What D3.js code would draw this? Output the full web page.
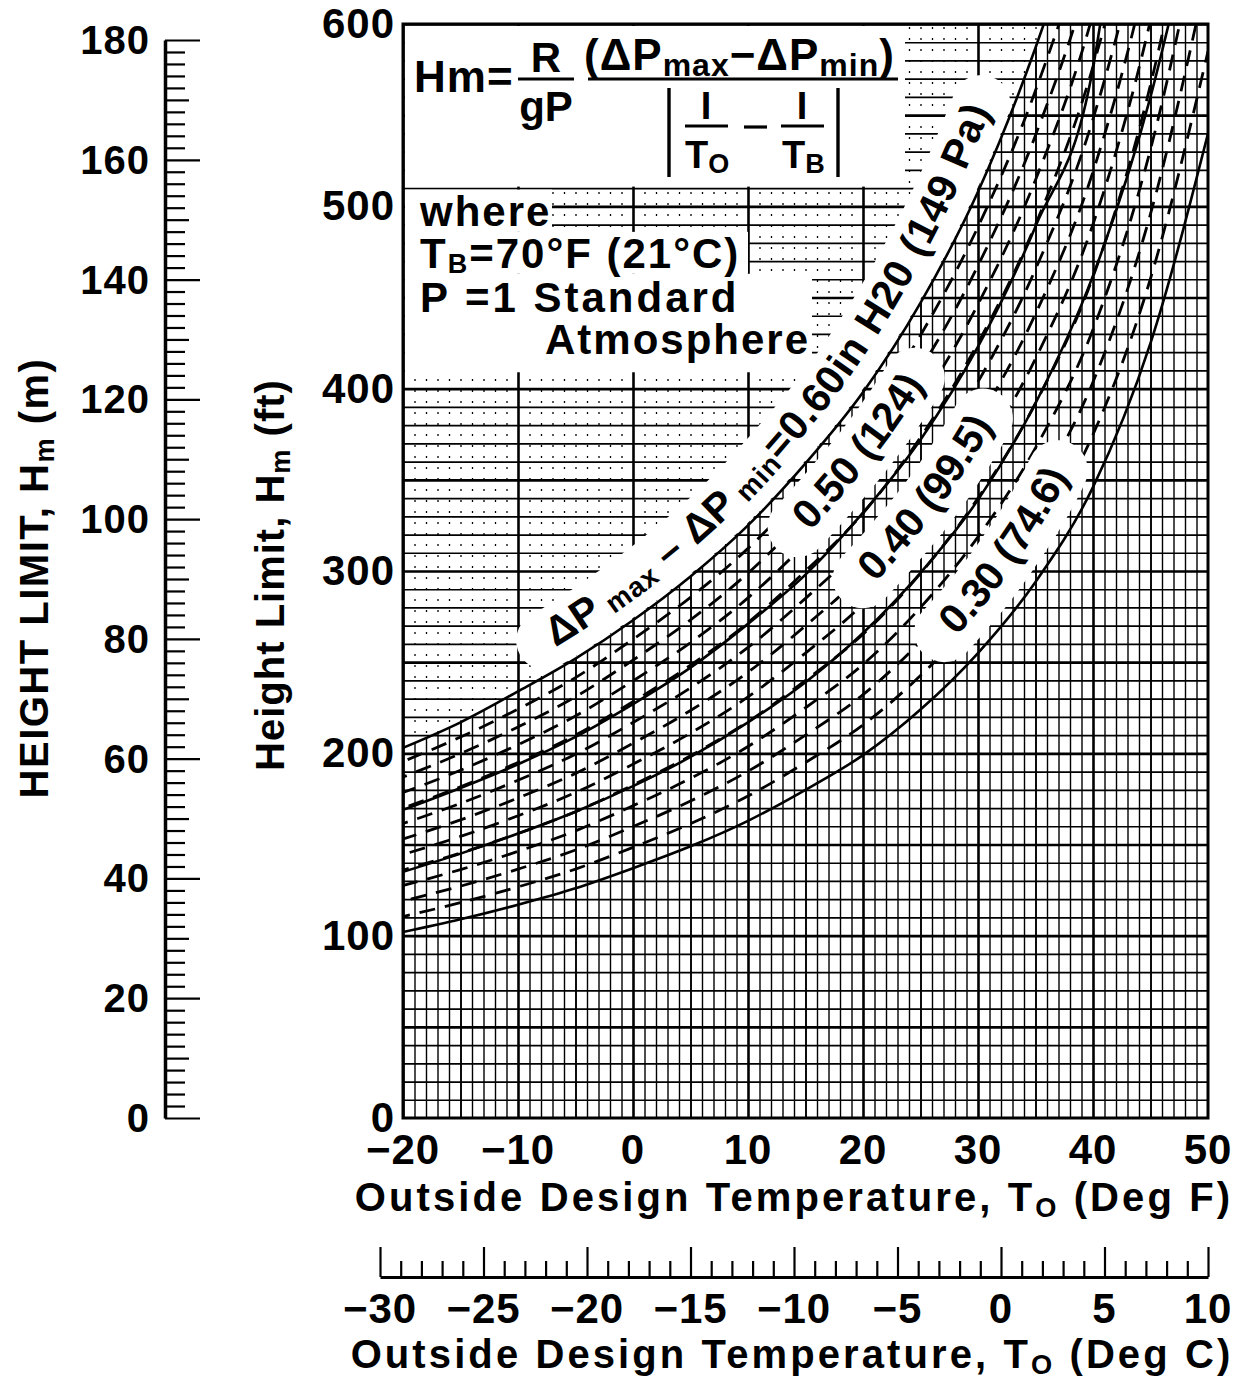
<!DOCTYPE html>
<html>
<head>
<meta charset="utf-8">
<script src="https://cdn.jsdelivr.net/npm/d3@7"></script>
<style>
  body { margin: 0; background: #fff; }
  svg { display: block; }
  text { font-family: "Liberation Sans", Arial, sans-serif; font-weight: bold; fill: #000; }
</style>
</head>
<body>
<svg id="chart" width="1246" height="1381"></svg>
<script>
/* curve readings: outside temperature (deg F) and height limit (ft) */
const temps060 = [-20, -15, -10, -5, 0, 5, 10, 15, 20, 25, 30, 35, 36];
const h060     = [203, 217, 234, 252, 273, 297, 325, 359, 398, 447, 508, 587, 605];
const temps050 = [-20, -15, -10, -5, 0, 5, 10, 15, 20, 25, 30, 35, 40, 41];
const h050     = [169, 181, 194, 209, 227, 247, 271, 298, 332, 372, 423, 489, 576, 615];
const temps040 = [-20, -15, -10, -5, 0, 5, 10, 15, 20, 25, 30, 35, 40, 45, 47];
const h040     = [135, 145, 156, 168, 182, 198, 217, 239, 266, 299, 339, 392, 462, 560, 611];
const temps030 = [-20, -15, -10, -5, 0, 5, 10, 15, 20, 25, 30, 35, 40, 45, 50];
const h030     = [102, 109, 117, 126, 137, 149, 163, 180, 199, 224, 255, 294, 346, 425, 540];

/* curve labels */
const curveLabels = ["0.60in H20 (149 Pa)", "0.50 (124)", "0.40 (99.5)", "0.30 (74.6)"];

/* tick labels */
const ftTicks = [0, 100, 200, 300, 400, 500, 600];
const mTicks = [0, 20, 40, 60, 80, 100, 120, 140, 160, 180];
const fTicks = [-20, -10, 0, 10, 20, 30, 40, 50];
const cTicks = [-30, -25, -20, -15, -10, -5, 0, 5, 10];

const svg = d3.select("#chart");

/* plot frame */
const pL = 403, pR = 1208, pT = 24, pB = 1118;
const x = d3.scaleLinear().domain([-20, 50]).range([pL, pR]);
const y = d3.scaleLinear().domain([0, 600]).range([pB, pT]);
const yM = d3.scaleLinear().domain([0, 180]).range([pB, 40]);
const xC = d3.scaleLinear().domain([-30, 10]).range([x(-22), x(50)]);
const fmt = d => (d < 0 ? "\u2212" + Math.abs(d) : "" + d);

const line = d3.line().x(d => x(d[0])).y(d => y(d[1])).curve(d3.curveMonotoneX);

const curves = [
  { id: "c060", temps: temps060, hts: h060 },
  { id: "c050", temps: temps050, hts: h050 },
  { id: "c040", temps: temps040, hts: h040 },
  { id: "c030", temps: temps030, hts: h030 }
];
curves.forEach(c => c.pts = c.temps.map((t, i) => [t, c.hts[i]]));
const c060 = curves[0], c030 = curves[3];

/* clip regions */
const defs = svg.append("defs");
defs.append("clipPath").attr("id", "plotClip")
  .append("rect").attr("x", pL).attr("y", pT).attr("width", pR - pL).attr("height", pB - pT);
const last060 = c060.pts[c060.pts.length - 1];
defs.append("clipPath").attr("id", "below060").append("path")
  .attr("d", line(c060.pts) + `L1400,${y(last060[1])}L1400,1300L0,1300L0,${y(c060.pts[0][1])}Z`);
defs.append("clipPath").attr("id", "above060").append("path")
  .attr("d", line(c060.pts) + `L${x(last060[0])},-100L0,-100L0,${y(c060.pts[0][1])}Z`);
const last030 = c030.pts[c030.pts.length - 1];
defs.append("clipPath").attr("id", "above030").append("path")
  .attr("d", line(c030.pts) + `L1400,${y(last030[1])}L1400,-100L0,-100L0,${y(c030.pts[0][1])}Z`);

/* layers in drawing order */
const gridLayer = svg.append("g").attr("clip-path", "url(#plotClip)");
const hatchLayer = svg.append("g").attr("clip-path", "url(#below060)")
  .append("g").attr("clip-path", "url(#above030)")
  .append("g").attr("clip-path", "url(#plotClip)");
const boxLayer = svg.append("g");
const bandLayer = svg.append("g").attr("clip-path", "url(#plotClip)");
const curveLayer = svg.append("g").attr("clip-path", "url(#plotClip)");
const labelLayer = svg.append("g");
const axisLayer = svg.append("g");

/* horizontal grid, every 10 ft */
gridLayer.append("g")
  .attr("transform", `translate(${pL},0)`)
  .call(d3.axisLeft(y).tickValues(d3.range(0, 601, 10)).tickSize(-(pR - pL)).tickFormat(""))
  .call(g => g.select(".domain").remove())
  .selectAll("line")
  .attr("stroke", "#000")
  .attr("stroke-width", d => d % 50 === 0 ? 2.6 : 1.7);

/* vertical grid, every 1 deg F */
function vGrid(clipId, vals) {
  const outer = gridLayer.append("g");
  if (clipId) outer.attr("clip-path", `url(#${clipId})`);
  const g = outer.append("g").attr("transform", `translate(0,${pB})`)
    .call(d3.axisBottom(x).tickValues(vals).tickSize(-(pB - pT)).tickFormat(""))
    .call(g => g.select(".domain").remove());
  return g.selectAll("line").attr("stroke", "#000");
}
const minorF = d3.range(-20, 51, 1).filter(d => d % 10 !== 0);
vGrid("below060", minorF).attr("stroke-width", d => d % 5 === 0 ? 1.9 : 1.4);
vGrid("above060", minorF).attr("stroke-width", 1.3).attr("stroke-dasharray", "2,9");
vGrid(null, fTicks).attr("stroke-width", 2.6);

/* hatching between the 0.60 and 0.30 curves */
d3.range(1, 12).forEach(i => {
  const f = 1 + i / 12;
  hatchLayer.append("path")
    .attr("d", line(c030.pts.map(p => [p[0], p[1] * f])))
    .attr("fill", "none")
    .attr("stroke", "#000")
    .attr("stroke-width", 2.8)
    .attr("stroke-dasharray", "16,10")
    .attr("stroke-dashoffset", i * 9);
});

/* formula panel */
boxLayer.append("rect").attr("x", pL + 2).attr("y", pT + 2)
  .attr("width", 905 - pL - 2).attr("height", y(510) - pT - 3.5).attr("fill", "#fff");
const whereRows = [[552, y(510) + 1.5, y(486)], [748, y(486), y(463)], [812, y(463), y(409)]];
whereRows.forEach(r => boxLayer.append("rect")
  .attr("x", pL + 2).attr("y", r[1]).attr("width", r[0] - pL - 2).attr("height", r[2] - r[1])
  .attr("fill", "#fff"));

const fx = boxLayer.append("g");
fx.append("text").attr("x", 414).attr("y", 92).attr("font-size", 44).style("letter-spacing", "1px").text("Hm=");
fx.append("text").attr("x", 546).attr("y", 72).attr("font-size", 42).attr("text-anchor", "middle").text("R");
fx.append("text").attr("x", 546).attr("y", 121).attr("font-size", 42).attr("text-anchor", "middle").text("gP");
const num = fx.append("text").attr("x", 584).attr("y", 70).attr("font-size", 44).style("letter-spacing", "1px");
num.append("tspan").text("(\u0394P");
num.append("tspan").attr("font-size", 32).attr("dy", 6).text("max");
num.append("tspan").attr("dy", -6).text("\u2212\u0394P");
num.append("tspan").attr("font-size", 32).attr("dy", 6).text("min");
num.append("tspan").attr("dy", -6).text(")");
[[518, 574, 79], [588, 898, 79], [685, 728, 126], [744, 767, 127], [781, 824, 126]].forEach(b =>
  fx.append("line").attr("x1", b[0]).attr("x2", b[1]).attr("y1", b[2]).attr("y2", b[2])
    .attr("stroke", "#000").attr("stroke-width", 3.2));
[669, 838].forEach(bx => fx.append("line").attr("x1", bx).attr("x2", bx).attr("y1", 88).attr("y2", 177)
  .attr("stroke", "#000").attr("stroke-width", 3.4));
fx.append("text").attr("x", 706).attr("y", 119).attr("font-size", 38).attr("text-anchor", "middle").text("I");
fx.append("text").attr("x", 802).attr("y", 119).attr("font-size", 38).attr("text-anchor", "middle").text("I");
const to = fx.append("text").attr("x", 685).attr("y", 168).attr("font-size", 38);
to.append("tspan").text("T");
to.append("tspan").attr("font-size", 27).attr("dy", 5).text("O");
const tb = fx.append("text").attr("x", 782).attr("y", 168).attr("font-size", 38);
tb.append("tspan").text("T");
tb.append("tspan").attr("font-size", 27).attr("dy", 5).text("B");

const wh = boxLayer.append("g").style("letter-spacing", "2px");
wh.append("text").attr("x", 420).attr("y", 226).attr("font-size", 42).text("where");
const tbl = wh.append("text").attr("x", 420).attr("y", 268).attr("font-size", 42);
tbl.append("tspan").text("T");
tbl.append("tspan").attr("font-size", 27).attr("dy", 5).text("B");
tbl.append("tspan").attr("dy", -5).text("=70\u00B0F (21\u00B0C)");
wh.append("text").attr("x", 420).attr("y", 312).attr("font-size", 42).style("letter-spacing", "3px").text("P =1 Standard");
wh.append("text").attr("x", 545).attr("y", 354).attr("font-size", 42).text("Atmosphere");

/* curves */
curves.forEach(c => curveLayer.append("path")
  .attr("id", c.id)
  .attr("d", line(c.pts))
  .attr("fill", "none")
  .attr("stroke", "#000")
  .attr("stroke-width", 2.6));

/* curve labels along the curves, on white bands */
function lengthAtX(node, px) {
  let lo = 0, hi = node.getTotalLength();
  for (let i = 0; i < 40; i++) {
    const mid = (lo + hi) / 2;
    if (node.getPointAtLength(mid).x < px) lo = mid; else hi = mid;
  }
  return lo;
}
function bandPath(node, s0, s1, off) {
  const total = node.getTotalLength(), pts = [];
  for (let s = Math.max(0, s0); s <= Math.min(total, s1); s += 3) {
    const p = node.getPointAtLength(s);
    const q = node.getPointAtLength(Math.min(s + 1, total));
    const r = node.getPointAtLength(Math.max(s - 1, 0));
    let dx = q.x - r.x, dy = q.y - r.y;
    const n = Math.hypot(dx, dy) || 1;
    dx /= n; dy /= n;
    pts.push([p.x + off * dy, p.y - off * dx]);
  }
  return d3.line()(pts);
}
const labelLayout = {
  c060: { startX: 566, dy: -20, band: [31, 58], sp: 1.2 },
  c050: { startX: 830, dy: -27, band: [39, 60], sp: 0.5 },
  c040: { startX: 895, dy: -27, band: [39, 60], sp: 0.5 },
  c030: { startX: 977, dy: -27, band: [39, 60], sp: 0.5 }
};
curves.forEach((c, k) => {
  const node = document.getElementById(c.id);
  const lay = labelLayout[c.id];
  const s0 = lengthAtX(node, lay.startX);
  const t = labelLayer.append("text").attr("font-size", 41).style("letter-spacing", lay.sp + "px");
  const tp = t.append("textPath").attr("href", "#" + c.id).attr("startOffset", s0);
  if (k === 0) {
    tp.append("tspan").attr("dy", lay.dy).text("\u0394P");
    tp.append("tspan").attr("font-size", 28).attr("dy", 4).text(" max");
    tp.append("tspan").attr("dy", -4).text(" \u2013 \u0394P");
    tp.append("tspan").attr("font-size", 28).attr("dy", 4).text(" min");
    tp.append("tspan").attr("dy", -4).text("=" + curveLabels[0]);
  } else {
    tp.append("tspan").attr("dy", lay.dy).text(curveLabels[k]);
  }
  const len = t.node().getComputedTextLength();
  bandLayer.append("path")
    .attr("d", bandPath(node, s0 - 6, s0 + len + 2, lay.band[0]))
    .attr("fill", "none")
    .attr("stroke", "#fff")
    .attr("stroke-width", lay.band[1])
    .attr("stroke-linecap", "round");
});

/* plot frame */
axisLayer.append("rect").attr("x", pL).attr("y", pT).attr("width", pR - pL).attr("height", pB - pT)
  .attr("fill", "none").attr("stroke", "#000").attr("stroke-width", 3);

/* left axis labels (ft) */
axisLayer.selectAll(".ftlab").data(ftTicks).enter().append("text")
  .attr("x", 395).attr("y", d => y(d) + 14).attr("text-anchor", "end")
  .attr("font-size", 42).style("letter-spacing", "1px").text(d => d);

/* bottom axis labels (deg F) */
axisLayer.selectAll(".flab").data(fTicks).enter().append("text")
  .attr("x", d => x(d)).attr("y", 1164).attr("text-anchor", "middle")
  .attr("font-size", 42).style("letter-spacing", "1px").text(fmt);

/* meter axis */
const mAxis = axisLayer.append("g").attr("transform", "translate(165,0)")
  .call(d3.axisRight(yM).tickValues(d3.range(0, 181, 2)).tickSizeOuter(0).tickFormat(""));
mAxis.select(".domain").attr("stroke-width", 3.5);
mAxis.selectAll(".tick line")
  .attr("x2", d => d % 20 === 0 ? 35 : d % 10 === 0 ? 24 : 20)
  .attr("stroke-width", 2.2);
axisLayer.selectAll(".mlab").data(mTicks).enter().append("text")
  .attr("x", 150).attr("y", d => yM(d) + 14).attr("text-anchor", "end")
  .attr("font-size", 40).style("letter-spacing", "1px").text(d => d);

/* celsius axis */
const cAxis = axisLayer.append("g").attr("transform", "translate(0,1277)")
  .call(d3.axisTop(xC).tickValues(d3.range(-30, 11, 1)).tickSizeOuter(0).tickFormat(""));
cAxis.select(".domain").attr("stroke-width", 3);
cAxis.selectAll(".tick line")
  .attr("y2", d => d % 5 === 0 ? -30 : -16)
  .attr("stroke-width", 2.2);
axisLayer.selectAll(".clab").data(cTicks).enter().append("text")
  .attr("x", d => xC(d)).attr("y", 1323).attr("text-anchor", "middle")
  .attr("font-size", 42).style("letter-spacing", "1px").text(fmt);

/* axis titles */
function title(g, xx, yy, rot, parts, size, sp) {
  const t = g.append("text").attr("transform", `translate(${xx},${yy}) rotate(${rot})`)
    .attr("text-anchor", "middle").attr("font-size", size).style("letter-spacing", sp + "px");
  t.append("tspan").text(parts[0]);
  t.append("tspan").attr("font-size", size * 0.68).attr("dy", 6).text(parts[1]);
  t.append("tspan").attr("dy", -6).text(parts[2]);
}
title(axisLayer, 794, 1211, 0, ["Outside Design Temperature, T", "O", " (Deg F)"], 40, 3.1);
title(axisLayer, 792, 1368, 0, ["Outside Design Temperature, T", "O", " (Deg C)"], 40, 3.1);
title(axisLayer, 284, 575, -90, ["Height Limit, H", "m", " (ft)"], 40, 1);
title(axisLayer, 48, 578, -90, ["HEIGHT LIMIT, H", "m", " (m)"], 40, 1.5);
</script>
</body>
</html>
